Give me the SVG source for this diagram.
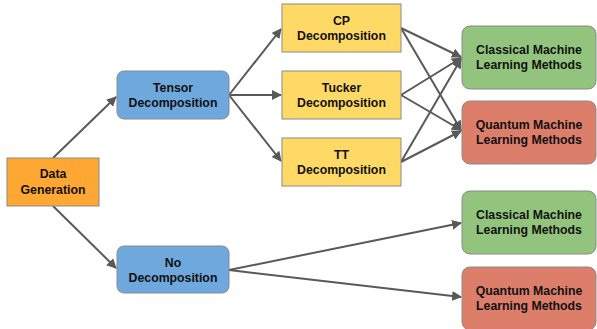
<svg xmlns="http://www.w3.org/2000/svg" width="597" height="329" viewBox="0 0 597 329">
<defs>
<marker id="ah" viewBox="0 0 10 10" refX="9" refY="5" markerWidth="5" markerHeight="5" markerUnits="strokeWidth" orient="auto">
<path d="M0,0 L10,5 L0,10 Z" fill="#595959"/>
</marker>
</defs>
<style>
.e{stroke:#595959;stroke-width:2;fill:none;marker-end:url(#ah)}
.n{stroke:#8a8a8a;stroke-width:1}
text{font-family:"Liberation Sans",Arial,sans-serif;font-weight:bold;font-size:12.3px;fill:#111;text-anchor:middle}
</style>
<rect width="597" height="329" fill="#fff"/>
<g id="connectors">
<line class="e" x1="53" y1="158" x2="116" y2="97"/>
<line class="e" x1="53" y1="206" x2="116" y2="268"/>
<line class="e" x1="229" y1="95" x2="281" y2="29"/>
<line class="e" x1="229" y1="95" x2="281" y2="95"/>
<line class="e" x1="229" y1="95" x2="281" y2="161"/>
<line class="e" x1="401" y1="28" x2="461" y2="57"/>
<line class="e" x1="401" y1="28" x2="461" y2="130"/>
<line class="e" x1="401" y1="95" x2="461" y2="58"/>
<line class="e" x1="401" y1="95" x2="461" y2="130"/>
<line class="e" x1="401" y1="162" x2="461" y2="59"/>
<line class="e" x1="401" y1="162" x2="461" y2="131"/>
<line class="e" x1="229" y1="270" x2="461" y2="223"/>
<line class="e" x1="229" y1="270" x2="461" y2="297"/>
</g>
<g id="data">
<rect class="n" x="7" y="158" width="92" height="48" fill="#FFA733"/>
<text x="53" y="178">Data</text>
<text x="53" y="194">Generation</text>
</g>
<g id="tensor">
<rect class="n" x="117" y="71" width="112" height="48" rx="7" fill="#6FA8DC"/>
<text x="173" y="92">Tensor</text>
<text x="173" y="107">Decomposition</text>
</g>
<g id="nodecomp">
<rect class="n" x="117" y="246" width="112" height="47" rx="7" fill="#6FA8DC"/>
<text x="173" y="267">No</text>
<text x="173" y="282">Decomposition</text>
</g>
<g id="cp">
<rect class="n" x="282" y="4" width="119" height="48" fill="#FFD966"/>
<text x="341.5" y="25">CP</text>
<text x="341.5" y="40">Decomposition</text>
</g>
<g id="tucker">
<rect class="n" x="282" y="71" width="119" height="48" fill="#FFD966"/>
<text x="341.5" y="92">Tucker</text>
<text x="341.5" y="107">Decomposition</text>
</g>
<g id="tt">
<rect class="n" x="282" y="138" width="119" height="48" fill="#FFD966"/>
<text x="341.5" y="159">TT</text>
<text x="341.5" y="174">Decomposition</text>
</g>
<g id="classical1">
<rect class="n" x="462" y="26" width="134" height="63" rx="8" fill="#93C47D"/>
<text x="529" y="54">Classical Machine</text>
<text x="529" y="69">Learning Methods</text>
</g>
<g id="quantum1">
<rect class="n" x="462" y="101" width="134" height="63" rx="8" fill="#DD7E6B"/>
<text x="529" y="129">Quantum Machine</text>
<text x="529" y="144">Learning Methods</text>
</g>
<g id="classical2">
<rect class="n" x="462" y="191" width="134" height="63" rx="8" fill="#93C47D"/>
<text x="529" y="219">Classical Machine</text>
<text x="529" y="234">Learning Methods</text>
</g>
<g id="quantum2">
<rect class="n" x="462" y="267" width="134" height="63" rx="8" fill="#DD7E6B"/>
<text x="529" y="295">Quantum Machine</text>
<text x="529" y="310">Learning Methods</text>
</g>
</svg>
